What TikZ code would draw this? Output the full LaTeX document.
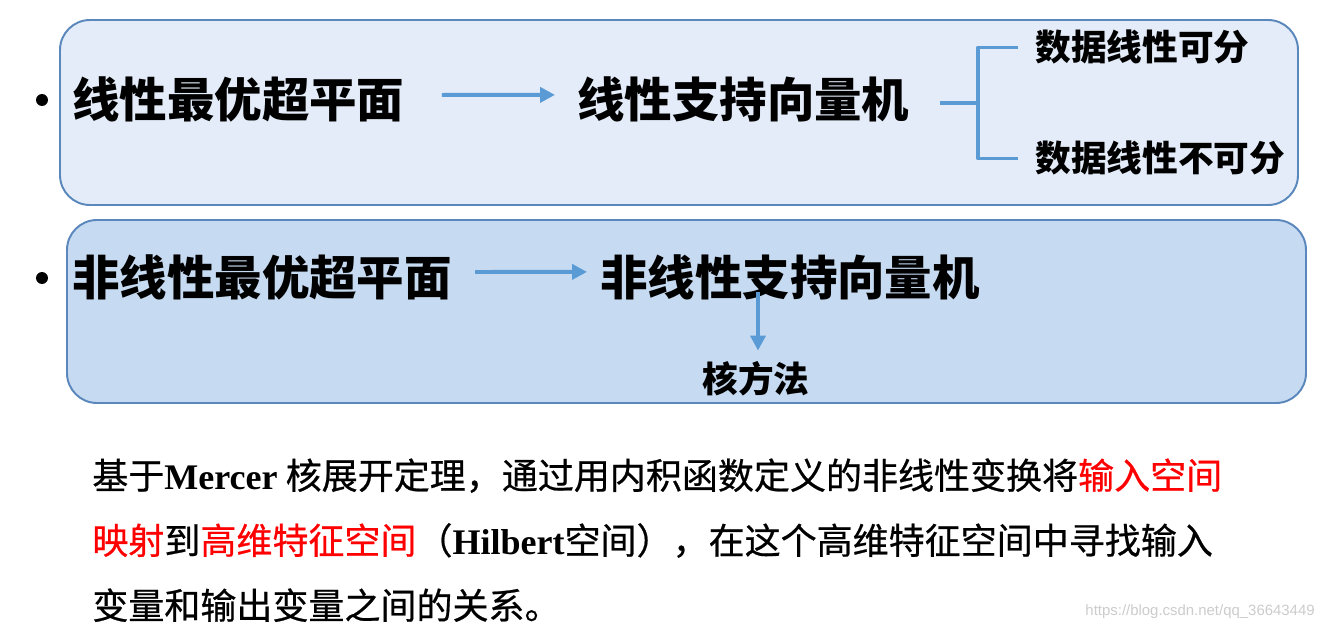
\documentclass[tikz,border=0pt]{standalone}
\usepackage{fontspec}
\usepackage{tikz}
\usetikzlibrary{arrows.meta}
\newfontfamily\cjk{Noto Sans CJK SC}
\newfontfamily\cjkbody[FakeBold=0.6]{Noto Sans CJK SC}
\newfontfamily\tms{Liberation Serif}
\newfontfamily\wmfont{Liberation Sans}
\definecolor{panelA}{HTML}{E3ECF8}
\definecolor{panelB}{HTML}{C6DAF1}
\definecolor{rim}{HTML}{5A87BC}
\definecolor{linkblue}{HTML}{5B9BD5}
\definecolor{hotred}{HTML}{FF0000}
\newcommand{\lat}[1]{{\tms\bfseries #1}}
\newcommand{\redtxt}[1]{{\color{hotred}#1}}

\begin{document}
\begin{tikzpicture}[x=0.02cm,y=-0.02cm,
        panel/.style={draw=rim,line width=1.1pt,rounded corners=0.6cm},
        heading/.style={font=\cjk\bfseries\fontsize{27}{32}\selectfont,inner sep=0,anchor=base west},
        branch/.style={font=\cjk\bfseries\fontsize{20.3}{24}\selectfont,inner sep=0,anchor=base west},
        body/.style={font=\cjkbody\fontsize{20.5}{24}\selectfont,inner sep=0,anchor=base west},
        dot/.style={circle,fill=black,inner sep=0,minimum size=0.24cm},
        stroke/.style={draw=linkblue,line width=2.2pt,line join=round},
        link/.style={stroke,-{Triangle[length=0.3cm,width=0.3cm]}},
        watermark/.style={font=\wmfont\fontsize{8.5}{10}\selectfont,text=gray!40,inner sep=0,anchor=base east}
    ]

    \fill[white] (0,0) rectangle (1325,628);
    \useasboundingbox (0,0) rectangle (1325,628);

    % two panels
    \draw[panel,fill=panelA] (60,20) rectangle (1298,205);
    \draw[panel,fill=panelB] (67,220) rectangle (1306,403);

    % linear case
    \node[dot] (b1) at (42,100) {};
    \node[heading] (lin) at (72,118) {线性最优超平面};
    \node[heading] (linsvm) at (577,118) {线性支持向量机};
    \node[branch] (sep) at (1035,61) {数据线性可分};
    \node[branch] (nonsep) at (1035,172) {数据线性不可分};
    \coordinate (fork) at (978,103);

    \draw[link,shorten <=0.74cm,shorten >=0.44cm] ([yshift=0.1cm]lin.east) -- ([yshift=0.1cm]linsvm.west);
    \draw[stroke] (fork -| linsvm.east) ++(0.6cm,0) -- (fork);
    \draw[stroke] ([xshift=-0.34cm]sep.west) -| (fork) |- ([xshift=-0.34cm]nonsep.west);

    % nonlinear case
    \node[dot] (b2) at (42,278) {};
    \node[heading] (nonlin) at (72,296) {非线性最优超平面};
    \node[heading] (nonlinsvm) at (600,296) {非线性支持向量机};
    \node[branch,anchor=base] (kern) at (756,392) {核方法};
    \coordinate (kstart) at (758,292);

    \draw[link,shorten <=0.46cm,shorten >=0.26cm] ([yshift=0.12cm]nonlin.east) -- ([yshift=0.12cm]nonlinsvm.west);
    \draw[link,shorten >=0.2cm] (kstart) -- (kstart |- kern.north);

    % explanation
    \node[body] (l1) at (92,489) {基于\lat{Mercer} 核展开定理，通过用内积函数定义的非线性变换将\redtxt{输入空间}};
    \node[body] (l2) at (92,554) {\redtxt{映射}到\redtxt{高维特征空间}（\lat{Hilbert}空间），在这个高维特征空间中寻找输入};
    \node[body] (l3) at (92,619) {变量和输出变量之间的关系。};

    \node[watermark] (wm) at (1315,615) {https://blog.csdn.net/qq\_36643449};

\end{tikzpicture}
\end{document}
